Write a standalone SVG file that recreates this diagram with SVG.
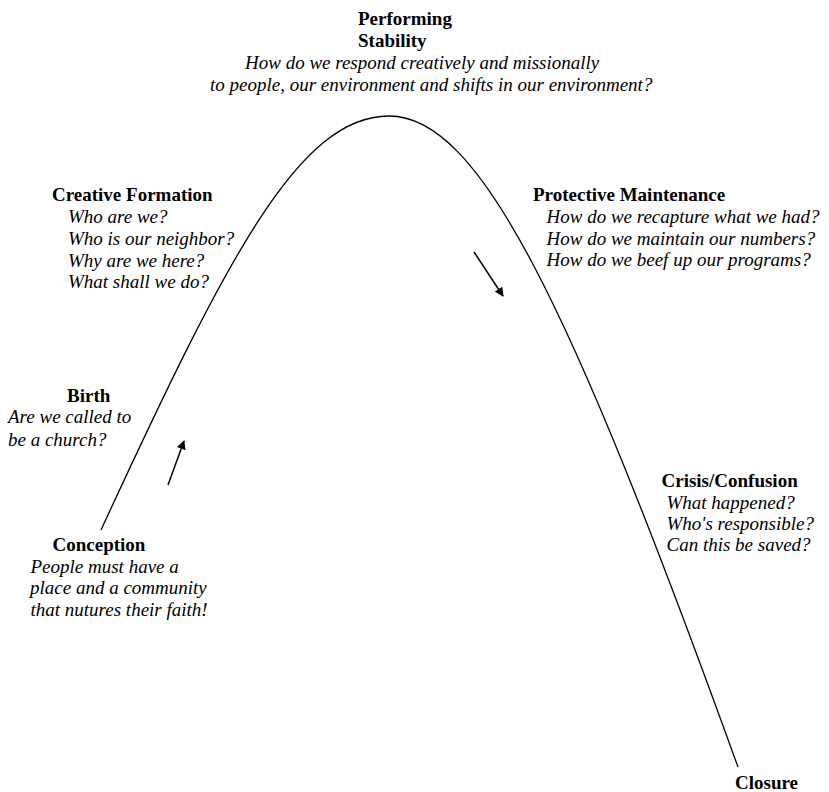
<svg xmlns="http://www.w3.org/2000/svg" width="829" height="792" viewBox="0 0 829 792" font-family="'Liberation Serif', 'Times New Roman', 'DejaVu Serif', serif">
<style>
text{font-family:"Liberation Serif","Times New Roman","DejaVu Serif",serif;font-size:19px;fill:#000}
.h{font-weight:bold}
.q{font-style:italic}
.c{fill:none;stroke:#000;stroke-width:1.3}
.a{fill:none;stroke:#000;stroke-width:1.5}
</style>
<defs>
<marker id="ah" viewBox="0 0 10 10" refX="9" refY="5" markerWidth="10" markerHeight="9" markerUnits="userSpaceOnUse" orient="auto">
<path d="M0,0 L10,5 L0,10 z" fill="#000"/>
</marker>
</defs>
<rect width="829" height="792" fill="#fff"/>
<g id="connectors">
<path class="c" d="M101,530 C227,257 299,116 389,116 C479,116 568,297 738,767"/>
<line class="a" x1="168" y1="485" x2="184" y2="441" marker-end="url(#ah)"/>
<line class="a" x1="474" y1="252" x2="503" y2="296" marker-end="url(#ah)"/>
</g>
<g id="performing">
<text class="h" x="358" y="25">Performing</text>
<text class="h" x="358" y="47">Stability</text>
<text class="q" x="245" y="69">How do we respond creatively and missionally</text>
<text class="q" x="210" y="91">to people, our environment and shifts in our environment?</text>
</g>
<g id="creative-formation">
<text class="h" x="52" y="201">Creative Formation</text>
<text class="q" x="68" y="223">Who are we?</text>
<text class="q" x="68" y="245">Who is our neighbor?</text>
<text class="q" x="68" y="266.5">Why are we here?</text>
<text class="q" x="68" y="288">What shall we do?</text>
</g>
<g id="birth">
<text class="h" x="67" y="401.5">Birth</text>
<text class="q" x="8" y="423">Are we called to</text>
<text class="q" x="8" y="445.5">be a church?</text>
</g>
<g id="conception">
<text class="h" x="52.5" y="551">Conception</text>
<text class="q" x="30.5" y="573">People must have a</text>
<text class="q" x="30" y="594">place and a community</text>
<text class="q" x="30.5" y="615.5">that nutures their faith!</text>
</g>
<g id="protective-maintenance">
<text class="h" x="533" y="201">Protective Maintenance</text>
<text class="q" x="546.5" y="223">How do we recapture what we had?</text>
<text class="q" x="546.5" y="244.5">How do we maintain our numbers?</text>
<text class="q" x="546.5" y="266">How do we beef up our programs?</text>
</g>
<g id="crisis-confusion">
<text class="h" x="661.5" y="487">Crisis/Confusion</text>
<text class="q" x="666.5" y="508.5">What happened?</text>
<text class="q" x="666.5" y="530">Who's responsible?</text>
<text class="q" x="666.5" y="551">Can this be saved?</text>
</g>
<g id="closure">
<text class="h" x="735" y="789">Closure</text>
</g>
</svg>
